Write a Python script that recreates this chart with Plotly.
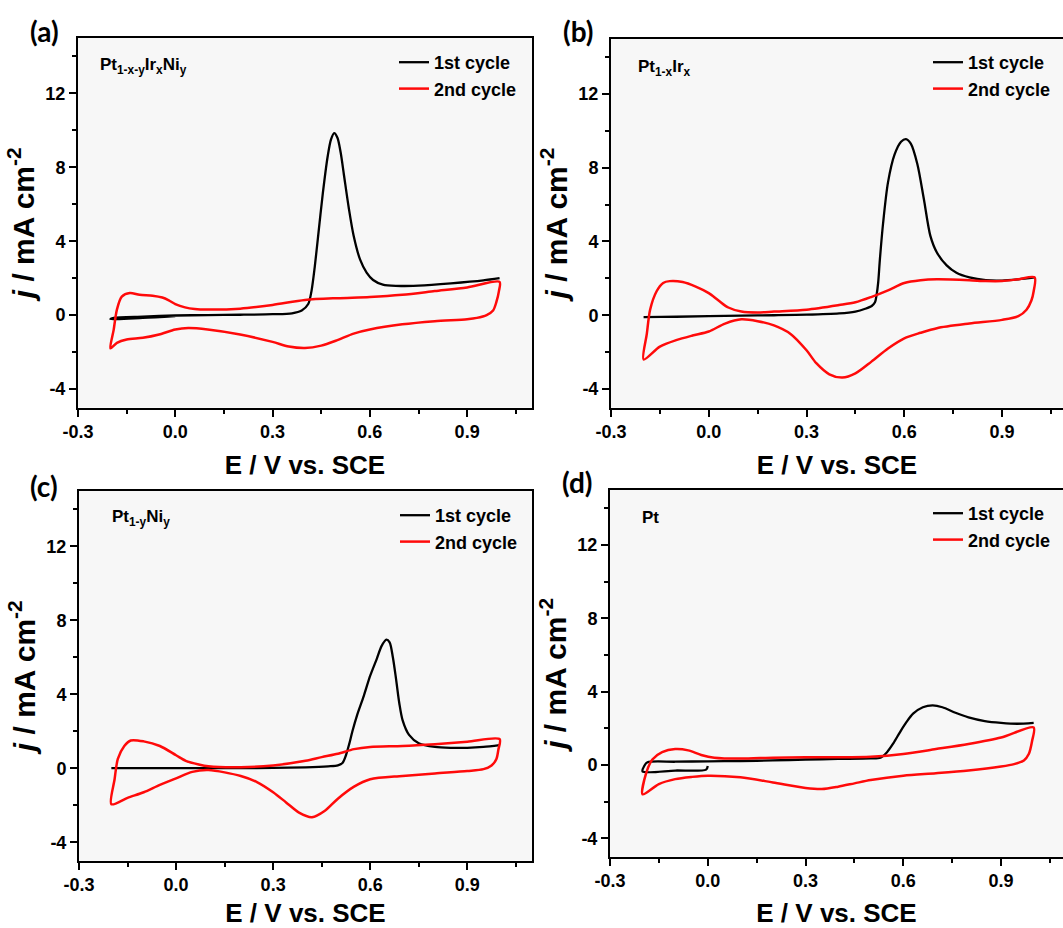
import plotly.graph_objects as go

W, H = 1063, 928

# ---------------- data: cyclic voltammograms (E in V vs. SCE, j in mA cm^-2) ----------------
# (a) Pt(1-x-y)Ir(x)Ni(y)
A_C1_E = [0.0, -0.1, -0.2, -0.19, -0.1, 0.0, 0.1, 0.2, 0.3, 0.36, 0.39, 0.41, 0.42, 0.43, 0.44,
          0.455, 0.47, 0.48, 0.49, 0.50, 0.51, 0.52, 0.535, 0.55, 0.57, 0.59, 0.61, 0.64, 0.68,
          0.75, 0.85, 0.95, 1.0]
A_C1_J = [-0.05, -0.15, -0.22, -0.15, -0.08, -0.02, 0.0, 0.02, 0.05, 0.1, 0.25, 0.6, 1.3, 2.6, 4.2,
          6.6, 8.6, 9.5, 9.85, 9.6, 8.8, 7.6, 5.8, 4.3, 3.0, 2.3, 1.9, 1.65, 1.58,
          1.6, 1.72, 1.88, 2.0]
A_C2_E = [-0.2, -0.19, -0.18, -0.165, -0.14, -0.11, -0.07, -0.04, -0.02, 0.0, 0.03, 0.06, 0.1, 0.2,
          0.3, 0.4, 0.5, 0.6, 0.7, 0.8, 0.9, 1.0, 0.998, 0.99, 0.98, 0.96, 0.93, 0.9, 0.8, 0.7,
          0.6, 0.55, 0.5, 0.45, 0.4, 0.35, 0.3, 0.2, 0.1, 0.04, 0.0, -0.05, -0.1, -0.15, -0.18, -0.2]
A_C2_J = [-1.8, -0.8, 0.3, 1.0, 1.2, 1.1, 1.05, 0.95, 0.8, 0.6, 0.42, 0.33, 0.3, 0.35,
          0.55, 0.82, 0.92, 0.98, 1.1, 1.3, 1.5, 1.8, 1.3, 0.7, 0.25, 0.0, -0.15, -0.22, -0.33, -0.5,
          -0.78, -1.0, -1.35, -1.65, -1.78, -1.7, -1.45, -1.05, -0.78, -0.7, -0.78, -1.05, -1.23, -1.32, -1.5, -1.8]

# (b) Pt(1-x)Ir(x)
B_C1_E = [0.0, -0.1, -0.2, -0.1, 0.0, 0.1, 0.2, 0.3, 0.4, 0.45, 0.48, 0.5, 0.51, 0.515, 0.52,
          0.525, 0.535, 0.55, 0.57, 0.59, 0.605, 0.62, 0.64, 0.66, 0.68, 0.70, 0.73, 0.76, 0.8,
          0.85, 0.9, 0.95, 1.0]
B_C1_J = [-0.05, -0.08, -0.1, -0.08, -0.05, -0.02, 0.0, 0.03, 0.1, 0.2, 0.35, 0.5, 0.7, 1.1, 1.8,
          3.0, 5.0, 7.2, 8.7, 9.4, 9.55, 9.3, 8.2, 6.3, 4.3, 3.4, 2.7, 2.3, 2.05,
          1.9, 1.88, 1.95, 2.05]
B_C2_E = [-0.2, -0.19, -0.18, -0.16, -0.14, -0.12, -0.08, -0.04, 0.0, 0.03, 0.06, 0.1, 0.15, 0.2,
          0.3, 0.4, 0.45, 0.5, 0.55, 0.6, 0.65, 0.7, 0.8, 0.85, 0.9, 0.95, 1.0, 0.997, 0.99, 0.975,
          0.95, 0.9, 0.8, 0.7, 0.65, 0.6, 0.55, 0.5, 0.45, 0.41, 0.37, 0.33, 0.3, 0.25, 0.2, 0.15,
          0.1, 0.05, 0.0, -0.05, -0.1, -0.15, -0.2]
B_C2_J = [-2.4, -1.0, 0.3, 1.3, 1.75, 1.85, 1.8, 1.55, 1.2, 0.8, 0.42, 0.2, 0.15, 0.2,
          0.3, 0.55, 0.7, 1.0, 1.35, 1.75, 1.9, 1.95, 1.9, 1.85, 1.85, 1.95, 2.05, 1.3, 0.8, 0.3,
          -0.05, -0.25, -0.45, -0.7, -0.95, -1.25, -1.8, -2.5, -3.15, -3.38, -3.2, -2.6, -1.9, -1.0, -0.55, -0.32,
          -0.22, -0.45, -0.88, -1.1, -1.35, -1.7, -2.4]

# (c) Pt(1-y)Ni(y)
C_C1_E = [-0.2, -0.1, 0.0, 0.1, 0.2, 0.3, 0.4, 0.47, 0.5, 0.515, 0.525, 0.535, 0.545, 0.56, 0.58,
          0.60, 0.62, 0.635, 0.65, 0.66, 0.67, 0.68, 0.69, 0.70, 0.72, 0.75, 0.8, 0.85, 0.9, 0.95, 1.0]
C_C1_J = [0.0, 0.0, 0.0, 0.0, 0.0, 0.02, 0.05, 0.1, 0.15, 0.3, 0.7, 1.3, 2.0, 2.9, 3.9,
          5.0, 5.9, 6.6, 6.95, 6.8, 6.0, 4.8, 3.5, 2.6, 1.8, 1.35, 1.15, 1.1, 1.1, 1.15, 1.25]
C_C2_E = [-0.2, -0.19, -0.18, -0.16, -0.14, -0.1, -0.05, 0.0, 0.03, 0.07, 0.1, 0.2, 0.3, 0.4, 0.45,
          0.5, 0.55, 0.6, 0.7, 0.8, 0.9, 1.0, 0.996, 0.99, 0.975, 0.95, 0.9, 0.8, 0.7, 0.6, 0.55,
          0.5, 0.46, 0.42, 0.38, 0.34, 0.3, 0.25, 0.2, 0.1, 0.05, 0.0, -0.05, -0.1, -0.15, -0.2]
C_C2_J = [-1.95, -0.6, 0.5, 1.2, 1.5, 1.45, 1.2, 0.7, 0.4, 0.2, 0.1, 0.05, 0.15, 0.4, 0.6,
          0.78, 1.03, 1.15, 1.2, 1.3, 1.43, 1.57, 1.0, 0.5, 0.15, -0.05, -0.15, -0.28, -0.42, -0.6, -1.0,
          -1.65, -2.3, -2.65, -2.4, -1.85, -1.3, -0.75, -0.42, -0.1, -0.2, -0.55, -0.9, -1.3, -1.6, -1.95]

# (d) Pt
D_C1_E = [0.0, -0.005, -0.1, -0.2, -0.195, -0.185, -0.1, 0.0, 0.1, 0.2, 0.3, 0.4, 0.5, 0.53,
          0.55, 0.57, 0.59, 0.61, 0.63, 0.66, 0.69, 0.72, 0.76, 0.8, 0.85, 0.9, 0.95, 1.0]
D_C1_J = [-0.05, -0.25, -0.3, -0.35, -0.05, 0.15, 0.18, 0.2, 0.22, 0.25, 0.3, 0.33, 0.36, 0.4,
          0.7, 1.2, 1.8, 2.35, 2.8, 3.15, 3.25, 3.15, 2.85, 2.6, 2.4, 2.3, 2.25, 2.3]
D_C2_E = [-0.2, -0.19, -0.17, -0.14, -0.1, -0.06, -0.02, 0.02, 0.1, 0.2, 0.3, 0.4, 0.5, 0.6,
          0.7, 0.8, 0.9, 1.0, 0.995, 0.985, 0.97, 0.94, 0.9, 0.8, 0.7, 0.6, 0.5, 0.45, 0.4, 0.35,
          0.3, 0.2, 0.1, 0.0, -0.05, -0.1, -0.15, -0.2]
D_C2_J = [-1.6, -0.5, 0.3, 0.7, 0.87, 0.8, 0.55, 0.4, 0.35, 0.4, 0.42, 0.42, 0.45, 0.6,
          0.87, 1.15, 1.5, 2.05, 1.3, 0.6, 0.25, 0.05, -0.08, -0.3, -0.45, -0.58, -0.82, -1.0, -1.18, -1.31,
          -1.25, -0.95, -0.67, -0.58, -0.65, -0.77, -1.04, -1.6]

PANEL_TAGS = ["(a)", "(b)", "(c)", "(d)"]
SAMPLES = ["Pt<sub>1-x-y</sub>Ir<sub>x</sub>Ni<sub>y</sub>", "Pt<sub>1-x</sub>Ir<sub>x</sub>",
           "Pt<sub>1-y</sub>Ni<sub>y</sub>", "Pt"]
SERIES_NAMES = ["1st cycle", "2nd cycle"]
X_TICKS = [-0.3, 0.0, 0.3, 0.6, 0.9]
X_TICK_TEXT = ["-0.3", "0.0", "0.3", "0.6", "0.9"]
X_MINOR = [-0.15, 0.15, 0.45, 0.75, 1.05]
Y_TICKS = [-4, 0, 4, 8, 12]
Y_TICK_TEXT = ["-4", "0", "4", "8", "12"]
Y_MINOR = [-2, 2, 6, 10, 14]

curves = [
    (A_C1_E, A_C1_J, A_C2_E, A_C2_J),
    (B_C1_E, B_C1_J, B_C2_E, B_C2_J),
    (C_C1_E, C_C1_J, C_C2_E, C_C2_J),
    (D_C1_E, D_C1_J, D_C2_E, D_C2_J),
]

# ---------------- layout geometry (pixels) ----------------
# left, right, top, bottom of each plotting area; right panels run off the page edge
boxes = [
    (78, 532, 38, 407.5),
    (611, 1063, 38.5, 407.5),
    (79, 532, 490.7, 860.7),
    (610, 1063, 490, 856.7),
]
x_max = [1.1, 1.087, 1.1, 1.09]
legend_pos = [(394, 44), (928, 44), (395, 497), (928, 495)]
sample_pos = [(-0.238, 13.5), (-0.223, 13.4), (-0.204, 13.5), (-0.208, 13.5)]
tag_pos = [(44, 31), (578, 31), (44, 486), (577, 482)]

BLACK = "#000000"
RED = "#ff0a0a"
FONT = "Liberation Sans, Arial, sans-serif"

fig = go.Figure()
layout = dict(
    width=W, height=H, autosize=False,
    margin=dict(l=0, r=0, t=0, b=0),
    paper_bgcolor="white", plot_bgcolor="#f7f7f7",
    font=dict(family=FONT, color="black"),
    annotations=[], showlegend=True,
)

for i, (e1, j1, e2, j2) in enumerate(curves):
    k = "" if i == 0 else str(i + 1)
    xa, ya = "x" + k, "y" + k
    leg = "legend" + k
    l, r, t, b = boxes[i]

    fig.add_trace(go.Scatter(x=e1, y=j1, mode="lines", name=SERIES_NAMES[0],
                             line=dict(color=BLACK, width=2.3, shape="spline", smoothing=0.8),
                             xaxis=xa, yaxis=ya, legend=leg))
    fig.add_trace(go.Scatter(x=e2, y=j2, mode="lines", name=SERIES_NAMES[1],
                             line=dict(color=RED, width=2.5, shape="spline", smoothing=0.8),
                             xaxis=xa, yaxis=ya, legend=leg))

    right_cut = i in (1, 3)
    layout["xaxis" + k] = dict(
        domain=[l / W, r / W], anchor=ya, range=[-0.3, x_max[i]],
        tickmode="array", tickvals=X_TICKS, ticktext=X_TICK_TEXT,
        ticks="outside", ticklen=7, tickwidth=2, tickcolor="black",
        minor=dict(tickmode="array", tickvals=X_MINOR, ticks="outside", ticklen=4,
                   tickwidth=2, tickcolor="black", showgrid=False),
        tickfont=dict(size=18, family=FONT, weight="bold"),
        showline=True, linecolor="black", linewidth=2, mirror=True,
        showgrid=False, zeroline=False, automargin=False, fixedrange=True,
        title=dict(text="E / V vs. SCE", font=dict(size=26, family=FONT, weight="bold"), standoff=15),
    )
    layout["yaxis" + k] = dict(
        domain=[1 - b / H, 1 - t / H], anchor=xa, range=[-5, 15],
        tickmode="array", tickvals=Y_TICKS, ticktext=Y_TICK_TEXT,
        ticks="outside", ticklen=7, tickwidth=2, tickcolor="black",
        minor=dict(tickmode="array", tickvals=Y_MINOR, ticks="outside", ticklen=4,
                   tickwidth=2, tickcolor="black", showgrid=False),
        tickfont=dict(size=18, family=FONT, weight="bold"),
        showline=True, linecolor="black", linewidth=2, mirror=not right_cut,
        showgrid=False, zeroline=False, automargin=False, fixedrange=True,
        title=dict(text="<i>j</i> / mA cm<sup>-2</sup>",
                   font=dict(size=30, family=FONT, weight="bold"), standoff=2),
    )

    lx, ly = legend_pos[i]
    layout[leg] = dict(
        x=lx / W, y=1 - ly / H, xanchor="left", yanchor="top",
        bgcolor="rgba(0,0,0,0)", borderwidth=0,
        font=dict(size=18, family=FONT, weight="bold"),
        tracegroupgap=0, itemwidth=30,
    )

    sx, sy = sample_pos[i]
    layout["annotations"].append(dict(
        x=sx, y=sy, xref=xa, yref=ya, xanchor="left", yanchor="middle",
        text=SAMPLES[i], showarrow=False,
        font=dict(size=17, family=FONT, weight="bold"),
    ))
    tx, ty = tag_pos[i]
    layout["annotations"].append(dict(
        x=tx / W, y=1 - ty / H, xref="paper", yref="paper", xanchor="center", yanchor="middle",
        text=PANEL_TAGS[i], showarrow=False,
        font=dict(size=28, family="Lato, Open Sans, sans-serif", weight="bold"),
    ))

fig.update_layout(**layout)
fig.write_html("out.html")
